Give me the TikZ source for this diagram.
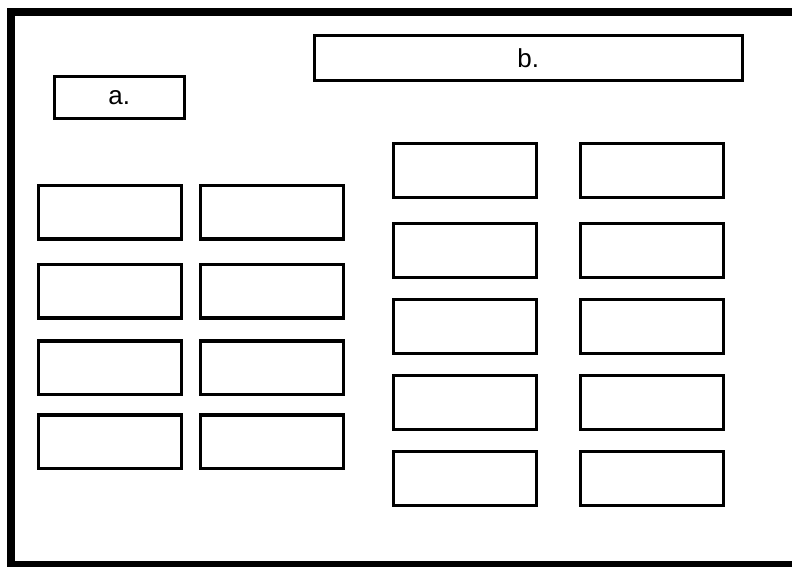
\documentclass[tikz,border=0pt]{standalone}
\usepackage{fontspec}
\setmainfont{Liberation Sans}
\begin{document}
\begin{tikzpicture}[x=1pt,y=-1pt,
  cell/.style={draw=black,line width=3.2pt,rectangle,inner sep=0pt,outer sep=0pt,fill=white},
  lcell/.style={cell,minimum width=143pt,minimum height=53.5pt},
  rcell/.style={cell,minimum width=143pt,minimum height=54pt},
  lbl/.style={font=\fontsize{26}{30}\selectfont}]
\useasboundingbox (0,0) rectangle (792,566);
\begin{scope}
\clip (0,0) rectangle (792,566);
\draw[line width=7.7pt] (11.2,11.8) rectangle (805,564.9);
\end{scope}
% label boxes
\node[cell,minimum width=130pt,minimum height=41.7pt,lbl] (a) at (119.2,97.3) {a.};
\node[cell,minimum width=427.7pt,minimum height=44.4pt,lbl] (b) at (528.3,58) {b.};
% left group
\node[lcell] (l11) at (110,212.2) {};
\node[lcell] (l12) at (272,212.2) {};
\node[lcell] (l21) at (110,291.2) {};
\node[lcell] (l22) at (272,291.2) {};
\node[lcell] (l31) at (110,367.7) {};
\node[lcell] (l32) at (272,367.7) {};
\node[lcell] (l41) at (110,441.7) {};
\node[lcell] (l42) at (272,441.7) {};
% right group
\node[rcell] (r11) at (465,170.5) {};
\node[rcell] (r12) at (652,170.5) {};
\node[rcell] (r21) at (465,250.5) {};
\node[rcell] (r22) at (652,250.5) {};
\node[rcell] (r31) at (465,326.5) {};
\node[rcell] (r32) at (652,326.5) {};
\node[rcell] (r41) at (465,402.8) {};
\node[rcell] (r42) at (652,402.8) {};
\node[rcell] (r51) at (465,478.8) {};
\node[rcell] (r52) at (652,478.8) {};
\end{tikzpicture}
\end{document}
